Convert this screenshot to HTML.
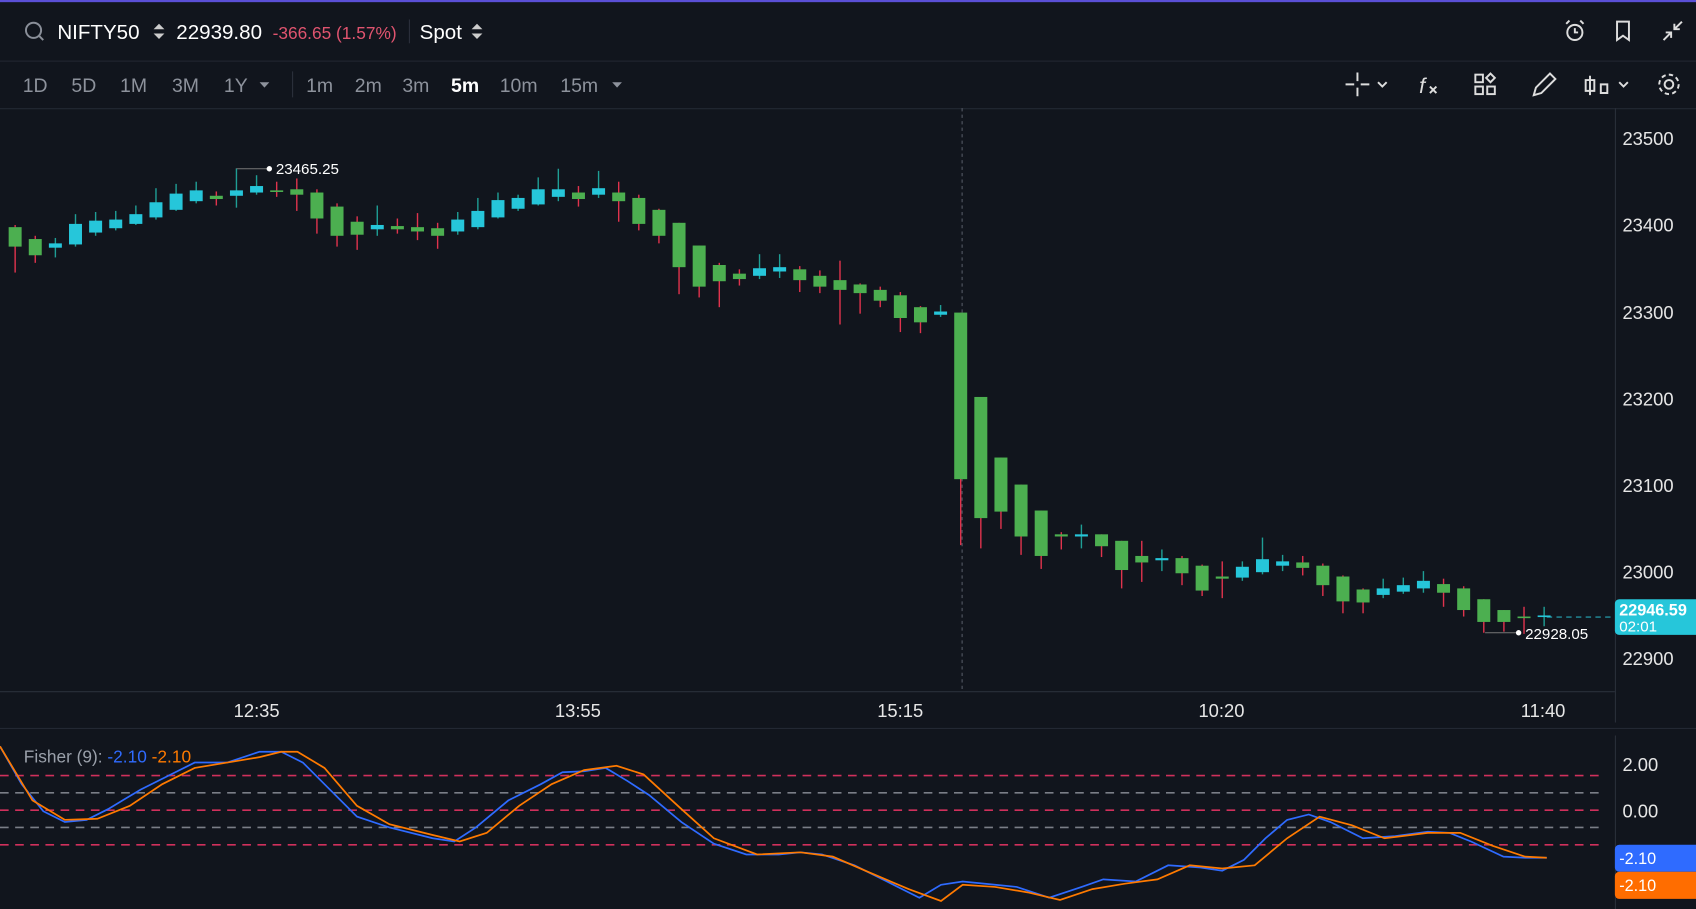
<!DOCTYPE html>
<html><head><meta charset="utf-8"><style>
html,body{margin:0;padding:0;background:#11151d;width:1696px;height:909px;overflow:hidden;font-family:"Liberation Sans",sans-serif}
svg{display:block}
</style></head><body>
<svg width="1696" height="909" viewBox="0 0 1568 840.4" preserveAspectRatio="none" xmlns="http://www.w3.org/2000/svg" font-family="Liberation Sans, sans-serif">
<rect width="1568" height="841" fill="#11151d"/>
<rect width="1568" height="2" fill="#5a4fd6"/>
<line x1="0" y1="56.5" x2="1568" y2="56.5" stroke="#232833"/>
<line x1="0" y1="100.5" x2="1568" y2="100.5" stroke="#232833"/>
<!-- header -->
<circle cx="31" cy="28" r="7" fill="none" stroke="#8a8f99" stroke-width="1.8"/><line x1="36" y1="33" x2="40" y2="37" stroke="#8a8f99" stroke-width="1.8"/>
<text x="53" y="36" font-size="19" fill="#fff">NIFTY50</text>
<path d="M142 27 l5 -5 l5 5z M142 31 l5 5 l5 -5z" fill="#ccc"/>
<text x="163" y="36" font-size="19" fill="#fff">22939.80</text>
<text x="252" y="36" font-size="16" fill="#e0546f">-366.65 (1.57%)</text>
<line x1="378.5" y1="18" x2="378.5" y2="40" stroke="#2c313c"/>
<text x="388" y="36" font-size="19" fill="#fff">Spot</text>
<path d="M436 27 l5 -5 l5 5z M436 31 l5 5 l5 -5z" fill="#ccc"/>
<g stroke="#ddd" stroke-width="1.8" fill="none">
<circle cx="1456" cy="30" r="7"/><path d="M1456 26v4h3M1448 22l3-3M1464 22l-3-3"/>
<path d="M1495 20h11v17l-5.5-4-5.5 4z"/>
<path d="M1538 37l7-7M1540 30h5v5M1555 20l-7 7M1548 22v5h5"/>
</g>
<!-- toolbar -->
<g font-size="18" fill="#8d929c">
<text x="21" y="85">1D</text><text x="66" y="85">5D</text><text x="111" y="85">1M</text><text x="159" y="85">3M</text><text x="207" y="85">1Y</text>
<text x="283" y="85">1m</text><text x="328" y="85">2m</text><text x="372" y="85">3m</text>
<text x="417" y="85" fill="#fff" font-weight="bold">5m</text>
<text x="462" y="85">10m</text><text x="518" y="85">15m</text>
</g>
<path d="M240 76h9l-4.5 5z M566 76h9l-4.5 5z" fill="#8d929c"/>
<line x1="270.5" y1="66" x2="270.5" y2="90" stroke="#2c313c"/>
<g stroke="#ddd" stroke-width="1.8" fill="none">
<path d="M1244 78h8M1258 78h8M1255 67v8M1255 81v8"/><path d="M1274 76l4 4 4-4"/>
<text x="1312" y="86" font-size="20" fill="#ddd" stroke="none" font-style="italic">f</text><path d="M1322 80l6 6M1328 80l-6 6"/>
<rect x="1364" y="69" width="7" height="7"/><rect x="1364" y="80" width="7" height="7"/><rect x="1375" y="80" width="7" height="7"/><path d="M1378 68l4 4-4 4-4-4z"/>
<path d="M1418 88l2-7 13-13 5 5-13 13z"/>
<path d="M1470 70v18M1466 74h8v10h-8z M1480 78v8h6v-8z"/><path d="M1497 76l4 4 4-4"/>
<circle cx="1543" cy="78" r="4"/><circle cx="1543" cy="78" r="9" stroke-dasharray="4 3"/>
</g>
<!-- grid / axes -->
<line x1="1493.5" y1="100" x2="1493.5" y2="668" stroke="#2a2f3a"/>
<line x1="1493.5" y1="680" x2="1493.5" y2="850" stroke="#2a2f3a"/>
<line x1="0" y1="639.5" x2="1493" y2="639.5" stroke="#2a2f3a"/>
<line x1="0" y1="673.5" x2="1568" y2="673.5" stroke="#232833"/>
<line x1="889.5" y1="100" x2="889.5" y2="639" stroke="#555b66" stroke-dasharray="3 3"/>
<g font-size="17" fill="#e6e6e6">
<text x="1500" y="134">23500</text><text x="1500" y="214">23400</text><text x="1500" y="295">23300</text><text x="1500" y="375">23200</text><text x="1500" y="455">23100</text><text x="1500" y="535">23000</text><text x="1500" y="615">22900</text>
<text x="216" y="663">12:35</text><text x="513" y="663">13:55</text><text x="811" y="663">15:15</text><text x="1108" y="663">10:20</text><text x="1406" y="663">11:40</text>
</g>
<line x1="1430" y1="570.5" x2="1493" y2="570.5" stroke="#26a9b9" stroke-dasharray="5 4"/>
<rect x="1493" y="554" width="80" height="33" rx="4" fill="#26c6da"/>
<text x="1497" y="569" font-size="15" fill="#fff" font-weight="bold">22946.59</text>
<text x="1497" y="584" font-size="14" fill="#fff">02:01</text>
<!-- markers -->
<path d="M218 156h30" stroke="#777" /><circle cx="249" cy="156" r="2.5" fill="#fff"/>
<text x="255" y="161" font-size="14" fill="#fff">23465.25</text>
<path d="M1373 585h30" stroke="#777"/><circle cx="1404" cy="585" r="2.5" fill="#fff"/>
<text x="1410" y="591" font-size="14" fill="#fff">22928.05</text>
<g id="candles"></g>
<!-- fisher -->
<g stroke-dasharray="8 6" stroke-width="1.5">
<line x1="0" y1="717" x2="1480" y2="717" stroke="#d0305c"/>
<line x1="0" y1="733" x2="1480" y2="733" stroke="#7a7e87"/>
<line x1="0" y1="749" x2="1480" y2="749" stroke="#d0305c"/>
<line x1="0" y1="765" x2="1480" y2="765" stroke="#7a7e87"/>
<line x1="0" y1="781" x2="1480" y2="781" stroke="#d0305c"/>
</g>
<polyline fill="none" stroke="#2f6bff" stroke-width="1.6" points="0,690 20,725 40,750 60,760 80,758 100,748 130,730 160,715 180,705 210,705 240,695 260,695 280,705 300,725 330,755 360,765 400,775 420,778 440,765 470,740 500,725 520,714 540,713 560,710 580,722 600,735 630,760 660,780 690,790 720,790 740,788 760,790 790,800 820,815 850,830 870,818 890,815 920,818 940,820 970,830 1000,820 1020,813 1050,815 1080,800 1110,802 1130,805 1150,795 1170,775 1190,758 1210,753 1230,760 1260,775 1290,773 1320,769 1340,770 1360,778 1390,792 1410,793 1430,793"/>
<polyline fill="none" stroke="#ff7a00" stroke-width="1.6" points="0,690 30,740 60,758 90,757 120,745 150,725 180,710 210,705 240,700 260,695 275,695 300,710 330,745 360,762 400,772 425,778 450,770 480,745 510,725 540,712 570,708 595,716 630,748 660,775 700,790 740,788 770,792 800,805 840,822 870,833 890,818 920,820 950,825 980,832 1010,822 1040,817 1070,813 1100,800 1130,803 1160,800 1190,775 1220,755 1250,763 1280,775 1320,770 1350,770 1380,782 1410,792 1430,793"/>
<text x="22" y="705" font-size="16" fill="#9aa0aa">Fisher (9): <tspan fill="#2f6bff">-2.10</tspan> <tspan fill="#ff7a00">-2.10</tspan></text>
<g font-size="17" fill="#e6e6e6"><text x="1500" y="713">2.00</text><text x="1500" y="756">0.00</text></g>
<rect x="1493" y="781" width="80" height="25" rx="4" fill="#2f6bff"/>
<text x="1497" y="799" font-size="15" fill="#fff">-2.10</text>
<rect x="1493" y="806" width="80" height="25" rx="4" fill="#ff6d00"/>
<text x="1497" y="824" font-size="15" fill="#fff">-2.10</text>
</svg>
<script>
var d=[["d",210,228,208,252],["d",221,236,218,243],["u",225,229,220,238],["u",207,226,198,228],["u",204,215,196,218],["u",203,211,195,213],["u",198,207,190,208],["u",187,201,174,203],["u",179,194,170,195],["u",176,186,168,188],["d",181,184,177,190],["u",176,181,156,192],["u",172,178,162,180],["d",176,177,168,182],["d",175,180,165,195],["d",178,202,175,216],["d",191,218,188,228],["d",205,217,200,231],["u",208,212,190,218],["d",209,212,202,216],["d",210,214,197,222],["d",211,218,206,230],["u",203,214,196,217],["u",195,210,183,212],["u",185,201,178,202],["u",183,193,180,195],["u",175,189,164,190],["u",175,182,156,186],["d",178,184,172,191],["u",174,180,158,183],["d",178,186,168,205],["d",183,207,180,213],["d",194,218,193,225],["d",206,247,206,272],["d",227,265,227,275],["d",245,260,243,284],["d",253,258,249,264],["u",248,255,235,258],["u",247,251,235,257],["d",249,259,246,270],["d",255,265,250,271],["d",259,268,241,300],["d",263,271,262,290],["d",268,278,265,284],["d",273,294,270,307],["d",284,298,283,308],["u",288,291,282,293],["d",289,443,289,504],["d",367,479,367,507],["d",423,473,423,489],["d",448,496,448,513],["d",472,514,472,526],["d",494,496,492,508],["u",494,496,485,507],["d",494,505,494,515],["d",500,527,500,544],["d",514,520,500,538],["u",516,518,508,528],["d",516,530,514,541],["d",523,546,522,551],["d",533,535,519,553],["u",524,534,519,537],["u",517,529,497,531],["u",519,523,513,528],["d",520,525,514,532],["d",523,541,521,551],["d",533,556,532,567],["d",545,557,544,567],["u",544,550,535,553],["u",541,547,534,549],["u",537,544,528,548],["d",540,548,535,561],["d",544,564,542,570],["d",554,575,554,585],["d",564,575,564,584],["d",570,571,561,586],["u",569,570,561,579]];
var s="";d.forEach(function(c,i){var x=14+18.6*i;var up=c[0]=="u";var w=up?"#1f9e95":"#e0334d";var b=up?"#26c6da":"#4caf50";
s+='<line x1="'+x+'" x2="'+x+'" y1="'+c[3]+'" y2="'+c[4]+'" stroke="'+w+'" stroke-width="1.3"/>';
s+='<rect x="'+(x-6)+'" y="'+c[1]+'" width="12" height="'+Math.max(1.5,c[2]-c[1])+'" fill="'+b+'"/>';});
document.getElementById("candles").innerHTML=s;
</script>
</body></html>
